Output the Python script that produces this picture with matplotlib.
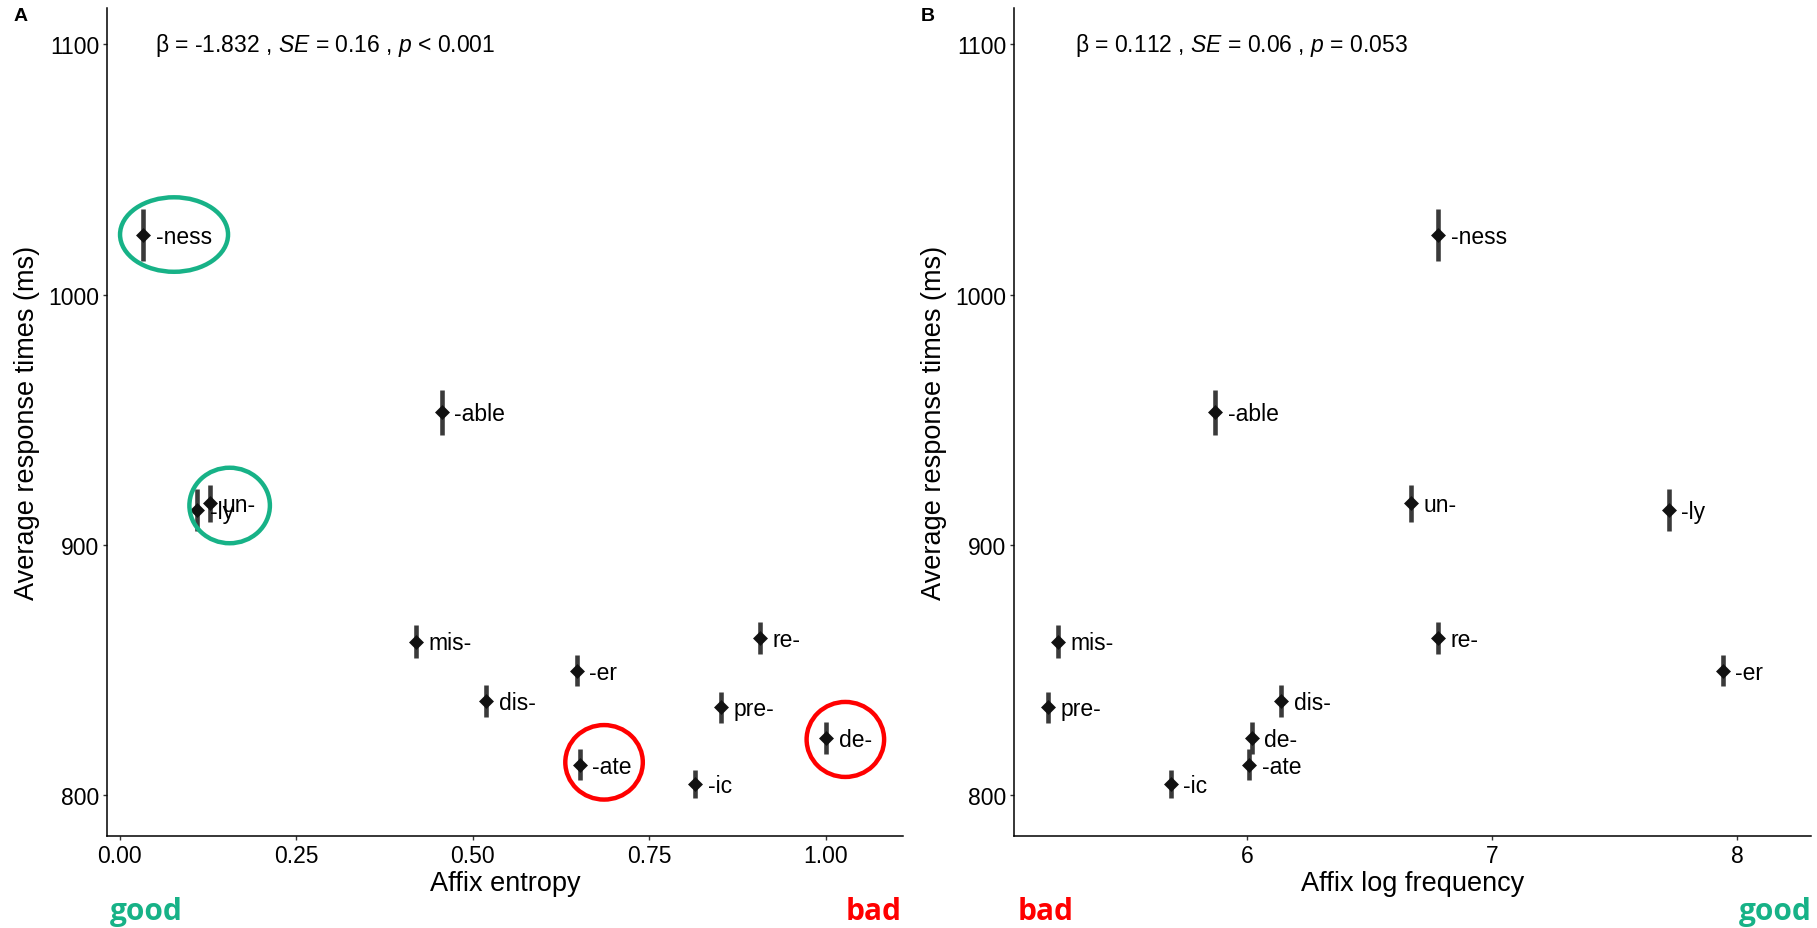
import matplotlib.pyplot as plt
import matplotlib.transforms as mtransforms
from matplotlib.patches import Ellipse

plt.rcParams['font.family'] = ['Liberation Sans', 'DejaVu Sans']
plt.rcParams['mathtext.fontset'] = 'custom'
plt.rcParams['mathtext.rm'] = 'Liberation Sans'
plt.rcParams['mathtext.it'] = 'Liberation Sans:italic'

# per-affix summaries
affixes = ["-ness", "-able", "-ly", "un-", "mis-", "re-", "-er", "dis-", "pre-", "de-", "-ate", "-ic"]
entropy = [0.033, 0.456, 0.110, 0.128, 0.420, 0.906, 0.647, 0.519, 0.851, 1.000, 0.651, 0.815]
log_freq = [6.78, 5.87, 7.72, 6.67, 5.23, 6.78, 7.94, 6.14, 5.19, 6.02, 6.01, 5.69]
mean_rt = [1023.7, 953.0, 913.9, 916.5, 861.3, 862.7, 849.7, 837.5, 835.0, 822.8, 812.1, 804.4]
rt_se = [10.3, 9.0, 8.5, 7.5, 6.5, 6.3, 6.3, 6.3, 6.3, 6.3, 6.2, 5.7]

stats_entropy = r"β = -1.832 , $SE$ = 0.16 , $p$ < 0.001"
stats_freq = r"β = 0.112 , $SE$ = 0.06 , $p$ = 0.053"

GREEN = "#17b287"
RED = "#ff0000"

# affixes circled in panel A: (affix, colour, dx, dy, w, h) in inches around the point
highlights = [("-ness", GREEN, 0.31, 0.007, 1.08, 0.745),
              ("un-", GREEN, 0.195, -0.02, 0.805, 0.755),
              ("-ate", RED, 0.245, 0.024, 0.775, 0.745),
              ("de-", RED, 0.193, -0.015, 0.775, 0.75)]


def draw_panel(ax, x, xlim, xlabel, stats, stats_x):
    ax.errorbar(x, mean_rt, yerr=rt_se, fmt='none', ecolor='#3a3a3a',
                elinewidth=3.3, capsize=0, zorder=2)
    ax.scatter(x, mean_rt, marker='D', s=58, color='#111111', lw=0, zorder=3)
    for xi, yi, name in zip(x, mean_rt, affixes):
        ax.annotate(name, (xi, yi), xytext=(9, -1), textcoords='offset points',
                    ha='left', va='center', fontsize=16.5)
    ax.text(stats_x, 1100, stats, ha='left', va='center', fontsize=16.5)
    ax.set_xlim(*xlim)
    ax.set_ylim(783.6, 1114.4)
    ax.set_yticks([800, 900, 1000, 1100])
    ax.set_xlabel(xlabel, fontsize=19.5, labelpad=2.5)
    ax.set_ylabel("Average response times (ms)", fontsize=19.5, labelpad=6)
    for side in ['top', 'right']:
        ax.spines[side].set_visible(False)
    for side in ['left', 'bottom']:
        ax.spines[side].set_linewidth(1.1)
    ax.tick_params(length=3, width=1, color='#333333', labelsize=16.5, pad=2.5)


fig = plt.figure(figsize=(18.17, 9.29), dpi=100)
ax_a = fig.add_axes([0.0589, 0.099, 0.4381, 0.891])
ax_b = fig.add_axes([0.558, 0.099, 0.4387, 0.891])

draw_panel(ax_a, entropy, (-0.018, 1.109), "Affix entropy", stats_entropy, 0.05)
ax_a.set_xticks([0, 0.25, 0.5, 0.75, 1.0])
ax_a.set_xticklabels(["0.00", "0.25", "0.50", "0.75", "1.00"])

draw_panel(ax_b, log_freq, (5.05, 8.30), "Affix log frequency", stats_freq, 5.30)
ax_b.set_xticks([6, 7, 8])

for name, col, dx, dy, w, h in highlights:
    i = affixes.index(name)
    trans = fig.dpi_scale_trans + mtransforms.ScaledTranslation(entropy[i], mean_rt[i], ax_a.transData)
    ax_a.add_patch(Ellipse((dx, dy), w, h, transform=trans, fill=False,
                           edgecolor=col, lw=3.2, clip_on=False, zorder=4))

fig.text(0.0077, 0.991, "A", fontsize=14, fontweight='bold', va='top', ha='left')
fig.text(0.5069, 0.991, "B", fontsize=14, fontweight='bold', va='top', ha='left')

tag = dict(fontsize=21.5, fontweight='bold', family=['Open Sans', 'DejaVu Sans'], va='baseline')
fig.text(0.0605, 0.010, "good", color=GREEN, ha='left', **tag)
fig.text(0.4962, 0.010, "bad", color=RED, ha='right', **tag)
fig.text(0.5603, 0.010, "bad", color=RED, ha='left', **tag)
fig.text(0.9972, 0.010, "good", color=GREEN, ha='right', **tag)

fig.savefig("out.png", dpi=100, facecolor='white')
